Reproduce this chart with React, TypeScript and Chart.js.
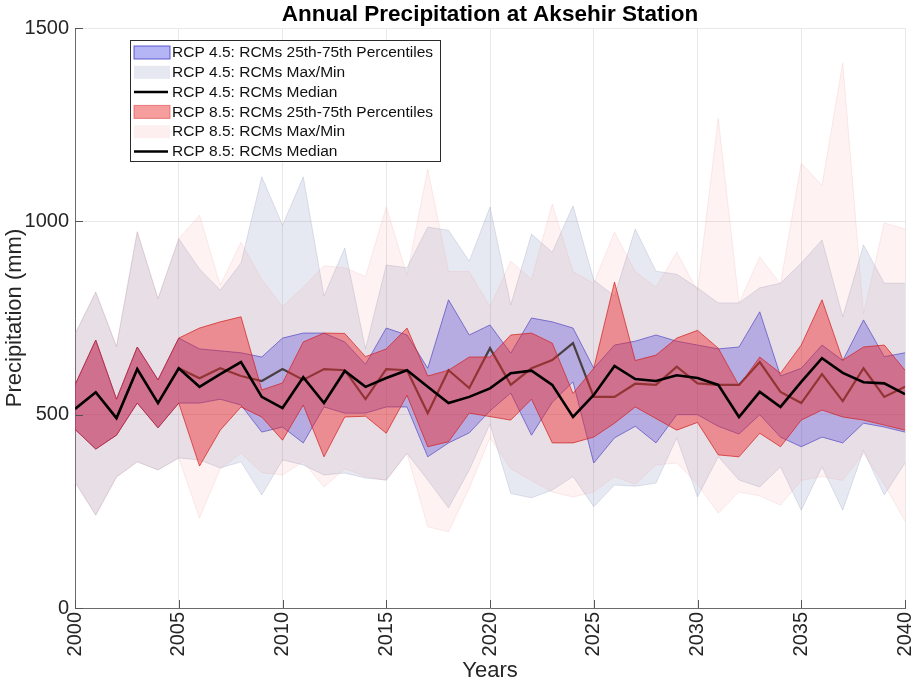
import React, { useEffect, useRef } from "react";
import { Chart, registerables } from "chart.js";

Chart.register(...registerables);

const titleText = "Annual Precipitation at Aksehir Station";
const xTitle = "Years";
const yTitle = "Precipitation (mm)";

const years = [
  2000, 2001, 2002, 2003, 2004, 2005, 2006, 2007, 2008, 2009,
  2010, 2011, 2012, 2013, 2014, 2015, 2016, 2017, 2018, 2019,
  2020, 2021, 2022, 2023, 2024, 2025, 2026, 2027, 2028, 2029,
  2030, 2031, 2032, 2033, 2034, 2035, 2036, 2037, 2038, 2039, 2040,
];

const xTicks = [2000, 2005, 2010, 2015, 2020, 2025, 2030, 2035, 2040];
const yTicks = [0, 500, 1000, 1500];

// RCP 4.5
const rcp45Max = [
  708, 817, 676, 973, 800, 955, 877, 822, 892, 1115,
  990, 1115, 807, 931, 670, 887, 880, 985, 977, 897,
  1037, 784, 967, 920, 1040, 848, 807, 980, 871, 863,
  828, 789, 789, 828, 840, 892, 952, 753, 939, 840, 840,
];
const rcp45Min = [
  326, 240, 339, 378, 357, 388, 383, 362, 378, 292,
  383, 370, 344, 349, 336, 331, 400, 331, 259, 357,
  476, 296, 285, 305, 340, 262, 318, 315, 323, 440,
  287, 391, 331, 313, 365, 253, 365, 253, 408, 292, 375,
];
const rcp45P75 = [
  577, 693, 540, 675, 590, 698, 670, 665, 660, 649,
  698, 711, 711, 688, 630, 724, 706, 620, 797, 706,
  732, 659, 750, 740, 724, 620, 680, 690, 706, 690,
  680, 670, 675, 766, 600, 620, 680, 640, 745, 650, 660,
];
const rcp45P25 = [
  462, 411, 447, 530, 466, 530, 530, 540, 525, 455,
  468, 427, 520, 504, 504, 520, 520, 391, 427, 453,
  510, 556, 447, 532, 585, 375, 440, 470, 427, 500,
  500, 470, 450, 500, 442, 417, 442, 427, 478, 468, 455,
];
const rcp45Median = [
  515, 558, 491, 618, 530, 620, 594, 620, 600, 587,
  618, 590, 618, 615, 540, 618, 615, 504, 615, 569,
  672, 577, 620, 641, 685, 546, 546, 580, 577, 624,
  581, 577, 577, 636, 559, 530, 605, 535, 620, 546, 572,
];

// RCP 8.5
const rcp85Max = [
  708, 817, 676, 973, 800, 955, 1016, 835, 946, 850,
  780, 830, 885, 880, 857, 1037, 861, 1135, 870, 870,
  780, 897, 850, 1045, 870, 840, 972, 870, 830, 920,
  820, 1267, 789, 908, 838, 1150, 1093, 1409, 760, 996, 980,
];
const rcp85Min = [
  326, 240, 339, 378, 357, 388, 233, 360, 400, 350,
  344, 378, 313, 360, 340, 330, 400, 210, 197, 310,
  440, 360, 330, 300, 287, 300, 340, 320, 370, 375,
  320, 245, 300, 290, 266, 330, 340, 330, 400, 320, 225,
];
const rcp85P75 = [
  577, 693, 540, 675, 590, 698, 724, 740, 753, 564,
  582, 688, 711, 710, 650, 670, 724, 600, 615, 649,
  649, 706, 711, 685, 555, 620, 843, 640, 654, 698,
  718, 672, 575, 649, 607, 680, 797, 641, 675, 680, 615,
];
const rcp85P25 = [
  462, 411, 447, 530, 466, 530, 367, 460, 520, 494,
  434, 525, 391, 494, 496, 452, 550, 417, 430, 504,
  495, 486, 540, 427, 427, 442, 478, 520, 490, 460,
  480, 396, 391, 452, 417, 486, 512, 494, 486, 473, 460,
];
const rcp85Median = [
  515, 558, 491, 618, 530, 620, 572, 605, 636, 546,
  517, 597, 530, 613, 572, 595, 615, 572, 530, 546,
  568, 607, 614, 577, 494, 551, 626, 592, 587, 602,
  595, 577, 494, 559, 520, 585, 646, 608, 584, 581, 553,
];

const legendLabels = [
  "RCP 4.5: RCMs 25th-75th Percentiles",
  "RCP 4.5: RCMs Max/Min",
  "RCP 4.5: RCMs Median",
  "RCP 8.5: RCMs 25th-75th Percentiles",
  "RCP 8.5: RCMs Max/Min",
  "RCP 8.5: RCMs Median",
];

const FONT = "'Liberation Sans', Arial, Helvetica, sans-serif";
const TEXT = "#262626";

const C45MM = "rgba(130,140,185,0.19)";
const C45MM_EDGE = "rgba(120,130,170,0.22)";
const C45IQR = "rgba(70,70,230,0.33)";
const C45IQR_EDGE = "rgba(70,70,200,0.7)";
const C85MM = "rgba(240,100,100,0.085)";
const C85MM_EDGE = "rgba(235,160,160,0.2)";
const C85IQR = "rgba(235,40,40,0.45)";
const C85IQR_EDGE = "rgba(210,30,30,0.7)";

function pts(arr: number[]) {
  return years.map((yr, i) => ({ x: yr, y: arr[i] }));
}

export default function App() {
  const ref = useRef<HTMLCanvasElement>(null);

  useEffect(() => {
    const canvas = ref.current;
    if (!canvas) return;

    const titlePlugin = {
      id: "customTitle",
      afterDraw(chart: any) {
        const { ctx, chartArea } = chart;
        ctx.save();
        ctx.font = `bold 22.5px ${FONT}`;
        ctx.fillStyle = "#000";
        ctx.textAlign = "center";
        ctx.textBaseline = "middle";
        ctx.fillText(titleText, (chartArea.left + chartArea.right) / 2, chartArea.top - 13);
        ctx.restore();
      },
    };

    const innerTicksPlugin = {
      id: "innerTicks",
      afterDatasetsDraw(chart: any) {
        const { ctx, chartArea, scales } = chart;
        ctx.save();
        ctx.strokeStyle = "#555";
        ctx.lineWidth = 1;
        ctx.beginPath();
        xTicks.forEach((v) => {
          const x = Math.round(scales.x.getPixelForValue(v)) + 0.5;
          ctx.moveTo(x, chartArea.bottom);
          ctx.lineTo(x, chartArea.bottom - 8);
        });
        yTicks.forEach((v) => {
          const y = Math.round(scales.y.getPixelForValue(v)) + 0.5;
          ctx.moveTo(chartArea.left, y);
          ctx.lineTo(chartArea.left + 8, y);
        });
        ctx.stroke();
        ctx.restore();
      },
    };

    const legendPlugin = {
      id: "customLegend",
      afterDraw(chart: any) {
        const { ctx, chartArea } = chart;
        const bx = chartArea.left + 55.5;
        const by = chartArea.top + 12.5;
        const bw = 310;
        const bh = 121;
        const rowH = 19.8;
        ctx.save();
        ctx.fillStyle = "#fff";
        ctx.fillRect(bx, by, bw, bh);
        ctx.strokeStyle = "#2b2b2b";
        ctx.lineWidth = 1;
        ctx.strokeRect(bx, by, bw, bh);
        ctx.font = `15.5px ${FONT}`;
        ctx.textBaseline = "middle";
        ctx.textAlign = "left";
        const kinds = [
          { t: "patch", fill: "rgba(70,70,230,0.4)", edge: "rgba(70,70,200,0.85)" },
          { t: "patch", fill: "rgba(130,140,185,0.2)", edge: null },
          { t: "line" },
          { t: "patch", fill: "rgba(235,40,40,0.45)", edge: "rgba(220,70,70,0.6)" },
          { t: "patch", fill: "rgba(240,100,100,0.1)", edge: null },
          { t: "line" },
        ];
        legendLabels.forEach((label, i) => {
          const cy = by + 12 + i * rowH;
          const k: any = kinds[i];
          const sx = bx + 3.5;
          if (k.t === "patch") {
            ctx.fillStyle = k.fill;
            ctx.fillRect(sx, cy - 6.5, 36, 13);
            if (k.edge) {
              ctx.strokeStyle = k.edge;
              ctx.lineWidth = 1;
              ctx.strokeRect(sx, cy - 6.5, 36, 13);
            }
          } else {
            ctx.strokeStyle = "#000";
            ctx.lineWidth = 2.5;
            ctx.beginPath();
            ctx.moveTo(sx, cy);
            ctx.lineTo(sx + 34, cy);
            ctx.stroke();
          }
          ctx.fillStyle = "#111";
          ctx.fillText(label, bx + 41.5, cy + 0.5);
        });
        ctx.restore();
      },
    };

    const chart = new Chart(canvas, {
      type: "line",
      data: {
        datasets: [
          { label: "45max", data: pts(rcp45Max), borderColor: C45MM_EDGE, borderWidth: 1, backgroundColor: C45MM, fill: { target: 1 }, order: 10 },
          { label: "45min", data: pts(rcp45Min), borderColor: C45MM_EDGE, borderWidth: 1, fill: false, order: 9 },
          { label: "45p75", data: pts(rcp45P75), borderColor: C45IQR_EDGE, borderWidth: 1, backgroundColor: C45IQR, fill: { target: 3 }, order: 8 },
          { label: "45p25", data: pts(rcp45P25), borderColor: C45IQR_EDGE, borderWidth: 1, fill: false, order: 7 },
          { label: "45med", data: pts(rcp45Median), borderColor: "#3c3c3c", borderWidth: 2.2, fill: false, order: 6 },
          { label: "85max", data: pts(rcp85Max), borderColor: C85MM_EDGE, borderWidth: 1, backgroundColor: C85MM, fill: { target: 6 }, order: 5 },
          { label: "85min", data: pts(rcp85Min), borderColor: C85MM_EDGE, borderWidth: 1, fill: false, order: 4 },
          { label: "85p75", data: pts(rcp85P75), borderColor: C85IQR_EDGE, borderWidth: 1, backgroundColor: C85IQR, fill: { target: 8 }, order: 3 },
          { label: "85p25", data: pts(rcp85P25), borderColor: C85IQR_EDGE, borderWidth: 1, fill: false, order: 2 },
          { label: "85med", data: pts(rcp85Median), borderColor: "#000", borderWidth: 2.6, fill: false, order: 1 },
        ] as any,
      },
      options: {
        responsive: false,
        animation: false,
        devicePixelRatio: 1,
        layout: { padding: { top: 28, right: 9, left: 0, bottom: 0 } },
        elements: { point: { radius: 0, hoverRadius: 0 }, line: { tension: 0 } },
        plugins: {
          legend: { display: false },
          tooltip: { enabled: false },
          title: { display: false },
        },
        scales: {
          x: {
            type: "linear",
            min: 2000,
            max: 2040,
            afterBuildTicks: (scale: any) => {
              scale.ticks = xTicks.map((v) => ({ value: v }));
            },
            afterFit: (scale: any) => {
              scale.height = 79;
              scale.paddingLeft = 0;
              scale.paddingRight = 0;
            },
            ticks: {
              autoSkip: false,
              maxRotation: 90,
              minRotation: 90,
              padding: 4,
              color: TEXT,
              font: { family: FONT, size: 20 },
              callback: (v: any) => String(v),
            },
            grid: { color: "#e8e8e8", drawTicks: false, lineWidth: 1 },
            border: { display: true, color: "#6b6b6b", width: 1 },
            title: {
              display: true,
              text: xTitle,
              color: TEXT,
              font: { family: FONT, size: 22 },
              padding: { top: 0, bottom: 3 },
            },
          },
          y: {
            type: "linear",
            min: 0,
            max: 1500,
            afterBuildTicks: (scale: any) => {
              scale.ticks = yTicks.map((v) => ({ value: v }));
            },
            afterFit: (scale: any) => {
              scale.width = 75;
              scale.paddingTop = 0;
              scale.paddingBottom = 0;
            },
            ticks: {
              padding: 6,
              color: TEXT,
              font: { family: FONT, size: 20 },
              callback: (v: any) => String(v),
            },
            grid: { color: "#e8e8e8", drawTicks: false, lineWidth: 1 },
            border: { display: true, color: "#6b6b6b", width: 1 },
            title: {
              display: true,
              text: yTitle,
              color: TEXT,
              font: { family: FONT, size: 22 },
              padding: { top: 2, bottom: 0 },
            },
          },
        },
      } as any,
      plugins: [innerTicksPlugin, titlePlugin, legendPlugin],
    });

    return () => {
      chart.destroy();
    };
  }, []);

  return (
    <div style={{ position: "fixed", left: 0, top: 0, width: 914, height: 687, background: "#fff" }}>
      <canvas ref={ref} width={914} height={687} style={{ display: "block", width: 914, height: 687 }} />
    </div>
  );
}
